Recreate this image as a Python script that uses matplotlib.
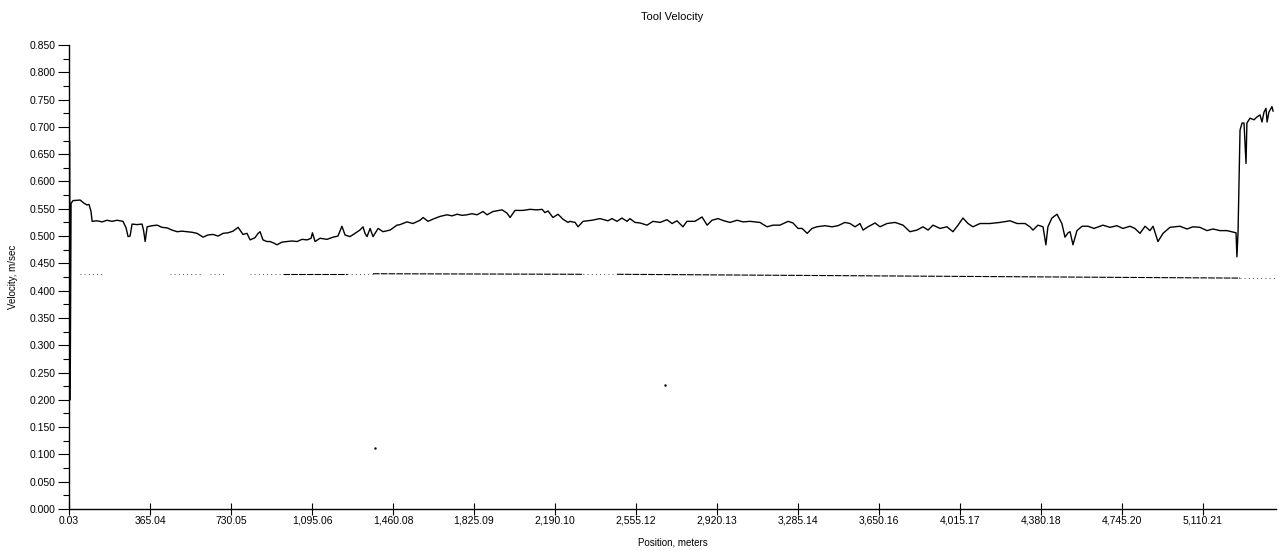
import matplotlib
matplotlib.use("Agg")
import matplotlib.pyplot as plt
from matplotlib.ticker import MultipleLocator, FormatStrFormatter

# Tool velocity trace, position in meters, velocity in m/sec
position = [0, 2, 5, 9, 18, 50, 68, 81, 90, 99, 104, 126, 149, 171, 194, 216,
            243, 257, 266, 275, 284, 306, 329, 336, 343, 352, 374, 397, 419,
            442, 464, 487, 509, 532, 554, 577, 604, 626, 649, 672, 694, 717,
            739, 762, 784, 802, 816, 838, 852, 861, 874, 892, 906, 924, 937,
            960, 982, 1005, 1028, 1050, 1073, 1091, 1097, 1109, 1131, 1163,
            1190, 1212, 1230, 1244, 1266, 1289, 1311, 1325, 1334, 1343, 1357,
            1370, 1393, 1415, 1447, 1478, 1492, 1523, 1550, 1582, 1596, 1618,
            1640, 1672, 1704, 1726, 1749, 1771, 1794, 1816, 1839, 1866, 1884,
            1911, 1952, 1974, 1988, 2010, 2046, 2078, 2109, 2132, 2145, 2159,
            2181, 2204, 2226, 2249, 2258, 2281, 2294, 2317, 2357, 2393, 2429,
            2447, 2470, 2492, 2515, 2528, 2551, 2574, 2605, 2632, 2664, 2695,
            2718, 2740, 2767, 2785, 2821, 2853, 2876, 2898, 2925, 2952, 2979,
            3011, 3038, 3069, 3114, 3146, 3173, 3204, 3241, 3263, 3286, 3304,
            3327, 3349, 3371, 3407, 3439, 3466, 3497, 3520, 3543, 3565, 3579,
            3601, 3633, 3655, 3687, 3723, 3759, 3790, 3822, 3849, 3872, 3894,
            3926, 3957, 3984, 4007, 4029, 4052, 4074, 4106, 4151, 4196, 4241,
            4273, 4309, 4331, 4345, 4367, 4390, 4403, 4412, 4430, 4453, 4475,
            4489, 4503, 4512, 4525, 4543, 4566, 4593, 4620, 4660, 4692, 4723,
            4750, 4782, 4804, 4827, 4850, 4872, 4886, 4908, 4931, 4962, 5007,
            5039, 5066, 5097, 5129, 5156, 5187, 5219, 5260, 5264, 5269, 5278,
            5287, 5296, 5305, 5309, 5323, 5341, 5354, 5368, 5377, 5386, 5395,
            5400, 5408, 5422, 5427]
velocity = [0.000, 0.675, 0.200, 0.560, 0.565, 0.566, 0.560, 0.557, 0.558,
            0.545, 0.527, 0.528, 0.526, 0.529, 0.527, 0.529, 0.527, 0.515,
            0.499, 0.500, 0.522, 0.521, 0.522, 0.510, 0.490, 0.517, 0.519,
            0.520, 0.516, 0.515, 0.511, 0.508, 0.509, 0.508, 0.507, 0.505,
            0.498, 0.502, 0.503, 0.500, 0.505, 0.506, 0.509, 0.516, 0.503,
            0.505, 0.493, 0.497, 0.505, 0.508, 0.493, 0.490, 0.490, 0.487,
            0.484, 0.489, 0.490, 0.491, 0.490, 0.494, 0.493, 0.496, 0.506,
            0.490, 0.496, 0.494, 0.498, 0.500, 0.518, 0.502, 0.499, 0.505,
            0.511, 0.517, 0.505, 0.499, 0.514, 0.499, 0.514, 0.508, 0.511,
            0.520, 0.521, 0.526, 0.523, 0.529, 0.534, 0.527, 0.531, 0.536,
            0.539, 0.537, 0.540, 0.538, 0.539, 0.541, 0.539, 0.545, 0.539,
            0.545, 0.548, 0.542, 0.534, 0.547, 0.547, 0.549, 0.548, 0.549,
            0.543, 0.546, 0.534, 0.540, 0.531, 0.525, 0.527, 0.525, 0.517,
            0.527, 0.529, 0.532, 0.528, 0.532, 0.527, 0.533, 0.527, 0.532,
            0.525, 0.524, 0.520, 0.527, 0.525, 0.530, 0.523, 0.528, 0.517,
            0.527, 0.527, 0.535, 0.520, 0.529, 0.532, 0.528, 0.525, 0.529,
            0.526, 0.527, 0.525, 0.517, 0.520, 0.520, 0.527, 0.524, 0.514,
            0.514, 0.505, 0.514, 0.517, 0.519, 0.517, 0.519, 0.525, 0.523,
            0.517, 0.523, 0.511, 0.517, 0.524, 0.517, 0.523, 0.525, 0.520,
            0.508, 0.511, 0.517, 0.511, 0.520, 0.514, 0.517, 0.508, 0.520,
            0.533, 0.523, 0.517, 0.523, 0.523, 0.525, 0.528, 0.523, 0.523,
            0.517, 0.511, 0.520, 0.517, 0.484, 0.517, 0.533, 0.540, 0.523,
            0.498, 0.506, 0.508, 0.484, 0.510, 0.518, 0.518, 0.514, 0.520,
            0.516, 0.519, 0.514, 0.518, 0.514, 0.505, 0.518, 0.510, 0.518,
            0.490, 0.505, 0.516, 0.518, 0.513, 0.517, 0.516, 0.510, 0.513,
            0.510, 0.510, 0.506, 0.462, 0.506, 0.694, 0.707, 0.707, 0.633,
            0.707, 0.716, 0.713, 0.718, 0.722, 0.709, 0.727, 0.734, 0.709,
            0.727, 0.737, 0.729]

# Lower reference trace drawn as broken runs (start, end, level at start, level at end, dense?)
low_start = [50, 455, 635, 816, 964, 1253, 1370, 2317, 2470, 5278]
low_end = [162, 590, 703, 951, 1253, 1370, 2317, 2470, 5278, 5440]
low_v_start = [0.431, 0.431, 0.431, 0.431, 0.431, 0.431, 0.431, 0.430, 0.430, 0.423]
low_v_end = [0.431, 0.431, 0.431, 0.431, 0.431, 0.431, 0.430, 0.430, 0.423, 0.423]
low_dense = [False, False, False, False, True, False, True, False, True, False]

# stray samples
stray_pos = [1379, 2686]
stray_vel = [0.112, 0.227]

x_ticks = [0.03, 365.04, 730.05, 1095.06, 1460.08, 1825.09, 2190.10, 2555.12,
           2920.13, 3285.14, 3650.16, 4015.17, 4380.18, 4745.20, 5110.21]

plt.rcParams['font.family'] = ['Liberation Sans', 'DejaVu Sans']

fig = plt.figure(figsize=(12.86, 5.51), dpi=100)
ax = fig.add_axes([0.0537, 0.0762, 0.9385, 0.8421])

ax.plot(position, velocity, color='black', linewidth=1.0)

for s, e, vs, ve, dense in zip(low_start, low_end, low_v_start, low_v_end, low_dense):
    if dense:
        ax.plot([s, e], [vs, ve], color='black', linewidth=0.8,
                linestyle=(0, (6, 1)))
    else:
        ax.plot([s, e], [vs, ve], color='black', linewidth=0.6,
                linestyle=(0, (1, 4)))

ax.plot(stray_pos, stray_vel, linestyle='none', marker='s', markersize=0.7,
        color='black')

ax.set_xlim(0, 5440)
ax.set_ylim(0, 0.85)

ax.set_xticks(x_ticks)
ax.set_xticklabels(['{:,.2f}'.format(v) for v in x_ticks])
ax.yaxis.set_major_locator(MultipleLocator(0.05))
ax.yaxis.set_minor_locator(MultipleLocator(0.025))
ax.yaxis.set_major_formatter(FormatStrFormatter('%.3f'))

ax.tick_params(axis='x', direction='inout', length=8, width=0.8,
               labelsize=7.5, pad=1)
ax.tick_params(axis='y', which='major', direction='out', length=8, width=0.8,
               labelsize=7.5, pad=2)
ax.tick_params(axis='y', which='minor', direction='out', length=4, width=0.8)

for side in ['top', 'right']:
    ax.spines[side].set_visible(False)
for side in ['left', 'bottom']:
    ax.spines[side].set_linewidth(1.0)

ax.set_title('Tool Velocity', fontsize=8, pad=18)
ax.set_xlabel('Position, meters', fontsize=7, labelpad=8)
ax.set_ylabel('Velocity, m/sec', fontsize=7, labelpad=8)

fig.savefig('out.png', dpi=100)
